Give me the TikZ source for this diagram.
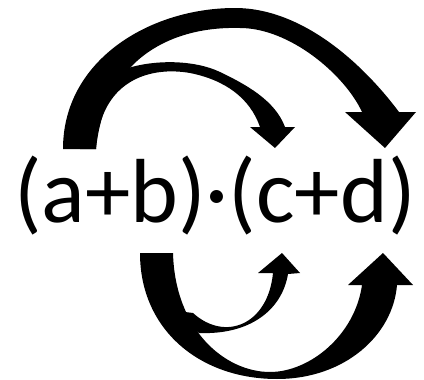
\documentclass[tikz,border=0pt]{standalone}
\usepackage{fontspec}
\setmainfont{Carlito}
\begin{document}
\begin{tikzpicture} [x=0.5pt, y=-0.5pt,
    arrowfill/.style={fill=black, draw=none},
    every node/.style={inner sep=0pt, font=\fontsize{45.5}{50}\selectfont}]
  \useasboundingbox (0,0) rectangle (424,380);
  \node[anchor=base] (expr) at (215,222) {(a+b)·(c+d)};

  % upper arrows: a -> d and a -> c
  \coordinate (aTail) at (63,149);
  \coordinate (dTop) at (385,148);
  \coordinate (cTop) at (275,148);
  \coordinate (upNotch) at (125,69);
  \fill[arrowfill] (aTail) .. controls (63,60) and (150,8) .. (235,8)
    .. controls (300,8) and (360,60) .. (399,112)
    -- (416,112) -- (dTop) -- (345,112) -- (362,112)
    .. controls (345,75) and (290,28) .. (240,28)
    .. controls (170,26) and (105,60) .. (96,149) -- cycle;
  \fill[arrowfill] (upNotch) .. controls (155,59) and (195,60) .. (220,72)
    .. controls (245,84) and (275,100) .. (285,127)
    -- (295,127) -- (cTop) -- (250,127) -- (260,127)
    .. controls (250,98) and (225,80) .. (190,73)
    .. controls (150,66) and (100,80) .. (96,149)
    -- (80,149) -- (90,100) -- cycle;

  % lower arrows: b -> d and b -> c
  \coordinate (bTail) at (140,253);
  \coordinate (dBot) at (383,253);
  \coordinate (cBot) at (282,253);
  \coordinate (lowNotch) at (199,333);
  \fill[arrowfill] (bTail) .. controls (140,330) and (200,379) .. (277,379)
    .. controls (345,379) and (393,335) .. (397,285)
    -- (413,285) -- (dBot) -- (348,285) -- (362,285)
    .. controls (355,335) and (310,372) .. (270,372)
    .. controls (225,372) and (175,330) .. (173,253) -- cycle;
  \fill[arrowfill] (lowNotch) .. controls (250,335) and (282,310) .. (288,274)
    -- (300,273) -- (cBot) -- (258,273) -- (273,273)
    .. controls (268,325) and (225,342) .. (193,313)
    -- (170,310) -- cycle;
\end{tikzpicture}
\end{document}
